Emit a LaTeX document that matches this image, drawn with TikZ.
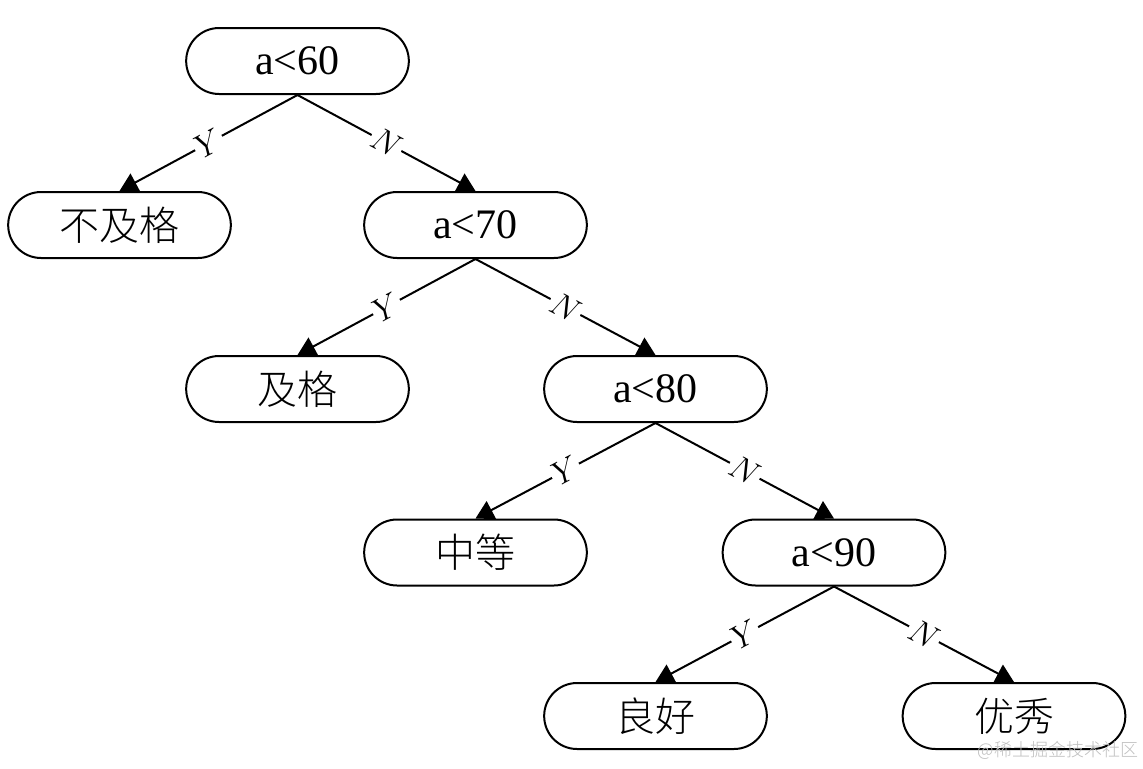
\documentclass[tikz,border=0pt]{standalone}
\usepackage{fontspec}
\setmainfont{Liberation Serif}
\newfontfamily\cjk{Noto Sans CJK SC Light}
\usetikzlibrary{arrows.meta}
\tikzset{
  tnode/.style={draw, line width=1.5pt, rounded corners=24.7pt,
    minimum width=167pt, minimum height=49.5pt, inner sep=0pt,
    font=\fontsize{31.5}{36}\selectfont},
  cnode/.style={tnode, font=\cjk\fontsize{30}{36}\selectfont},
  branch/.style={line width=1.5pt, -{Triangle[length=13.5pt,width=15pt]}},
  elabel/.style={midway, sloped, fill=white, inner sep=1.5pt, font=\fontsize{24}{28}\selectfont},
}
\begin{document}
\begin{tikzpicture}[x=0.75pt,y=-0.75pt]
\useasboundingbox (0,0) rectangle (1143,768);
\node[tnode] (n60) at (297.5,61) {a<60};
\node[cnode] (fail) at (119.5,225) {不及格};
\node[tnode] (n70) at (475.5,225) {a<70};
\node[cnode] (pass) at (297.5,389) {及格};
\node[tnode] (n80) at (655.5,389) {a<80};
\node[cnode] (mid) at (475.5,552.5) {中等};
\node[tnode] (n90) at (834,552.5) {a<90};
\node[cnode] (good) at (655.5,716) {良好};
\node[cnode] (best) at (1014,716) {优秀};
\draw[branch] (n60.south) -- node[elabel] {$Y$} (fail.north);
\draw[branch] (n60.south) -- node[elabel] {$N$} (n70.north);
\draw[branch] (n70.south) -- node[elabel] {$Y$} (pass.north);
\draw[branch] (n70.south) -- node[elabel] {$N$} (n80.north);
\draw[branch] (n80.south) -- node[elabel] {$Y$} (mid.north);
\draw[branch] (n80.south) -- node[elabel] {$N$} (n90.north);
\draw[branch] (n90.south) -- node[elabel] {$Y$} (good.north);
\draw[branch] (n90.south) -- node[elabel] {$N$} (best.north);
\node[text=black!25, font=\cjk\fontsize{13.5}{16}\selectfont, inner sep=0pt] (wm) at (1058,750) {@稀土掘金技术社区};
\end{tikzpicture}
\end{document}
